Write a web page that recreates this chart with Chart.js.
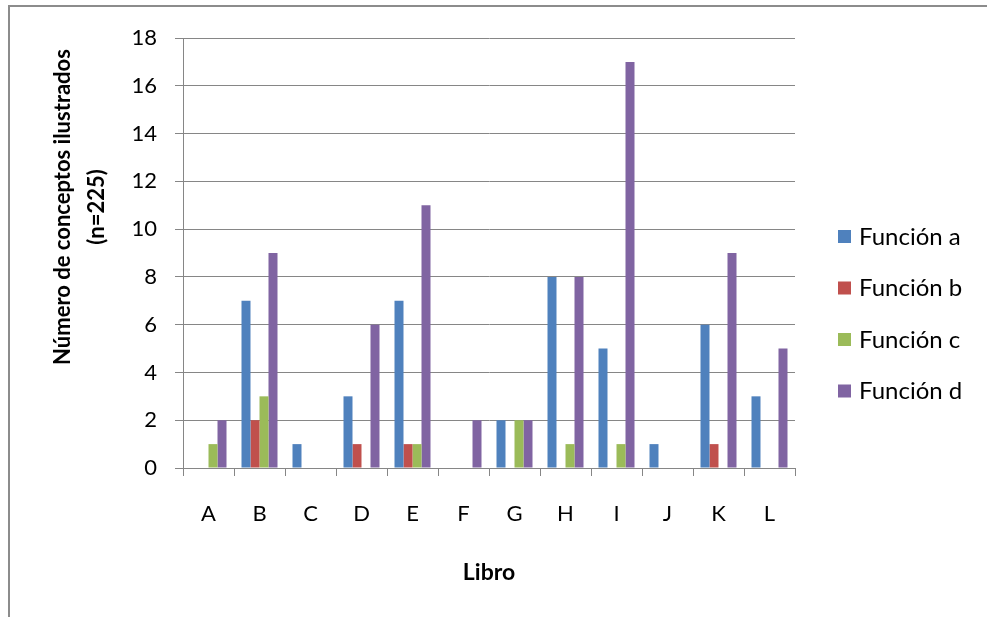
<!DOCTYPE html>
<html>
<head>
<meta charset="utf-8">
<script src="https://cdn.jsdelivr.net/npm/chart.js@4/dist/chart.umd.min.js"></script>
<style>
  html, body { margin: 0; padding: 0; background: #fff; }
  #wrap { width: 987px; height: 617px; position: relative; }
</style>
</head>
<body>
<div id="wrap"><canvas id="c" width="987" height="617"></canvas></div>
<script>
// Libros analizados y número de conceptos ilustrados por función
const libros = ['A', 'B', 'C', 'D', 'E', 'F', 'G', 'H', 'I', 'J', 'K', 'L'];
const funcionA = [0, 7, 1, 3, 7, 0, 2, 8, 5, 1, 6, 3];
const funcionB = [0, 2, 0, 1, 1, 0, 0, 0, 0, 0, 1, 0];
const funcionC = [1, 3, 0, 0, 1, 0, 2, 1, 1, 0, 0, 0];
const funcionD = [2, 9, 0, 6, 11, 2, 2, 8, 17, 0, 9, 5];
const nombresSeries = ['Función a', 'Función b', 'Función c', 'Función d'];
const colores = ['#4F81BD', '#C0504D', '#9BBB59', '#8064A2'];
const tituloY = ['Número de conceptos ilustrados', '(n=225)'];
const tituloX = 'Libro';

const FONT = 'Lato, Carlito, "Open Sans", sans-serif';
const GRIS = '#868686';

// Marco, título del eje vertical y leyenda dibujados sobre el lienzo
const extras = {
  id: 'extras',
  beforeDraw(chart) {
    const ctx = chart.ctx;
    ctx.save();
    ctx.fillStyle = '#fff';
    ctx.fillRect(0, 0, chart.width, chart.height);
    ctx.strokeStyle = '#8c8c8c';
    ctx.lineWidth = 2;
    ctx.beginPath();
    ctx.moveTo(9, chart.height);
    ctx.lineTo(9, 6);
    ctx.lineTo(chart.width, 6);
    ctx.stroke();
    ctx.restore();
  },
  afterDraw(chart) {
    const ctx = chart.ctx;
    ctx.save();
    // título del eje Y (dos líneas, girado)
    ctx.fillStyle = '#000';
    ctx.font = 'bold 22px ' + FONT;
    ctx.textAlign = 'center';
    ctx.textBaseline = 'middle';
    const cy = 207;
    tituloY.forEach((t, i) => {
      ctx.save();
      ctx.translate(63 + i * 34, cy);
      ctx.rotate(-Math.PI / 2);
      ctx.fillText(t, 0, 0);
      ctx.restore();
    });
    // leyenda
    ctx.font = '24px ' + FONT;
    ctx.textAlign = 'left';
    chart.data.datasets.forEach((ds, i) => {
      const y = 237 + i * 51.5;
      ctx.fillStyle = ds.backgroundColor;
      ctx.fillRect(838, y - 7, 13, 13);
      ctx.fillStyle = '#000';
      ctx.fillText(ds.label, 859, y);
    });
    ctx.restore();
  }
};

const series = [funcionA, funcionB, funcionC, funcionD];

new Chart(document.getElementById('c'), {
  type: 'bar',
  data: {
    labels: libros,
    datasets: series.map((d, i) => ({
      label: nombresSeries[i],
      data: d,
      backgroundColor: colores[i],
      borderWidth: 0,
      categoryPercentage: 0.706,
      barPercentage: 1.0
    }))
  },
  options: {
    responsive: false,
    animation: false,
    devicePixelRatio: 1,
    layout: { padding: { top: 38, right: 192, left: 0, bottom: 0 } },
    plugins: {
      legend: { display: false },
      tooltip: { enabled: false }
    },
    scales: {
      x: {
        afterFit(scale) { scale.height = 617 - 468; },
        grid: {
          offset: true,
          drawOnChartArea: false,
          drawTicks: true,
          tickLength: 8,
          color: GRIS
        },
        border: { color: GRIS, width: 1 },
        ticks: {
          color: '#000',
          padding: 25,
          font: { family: FONT, size: 22 }
        },
        title: {
          display: true,
          text: tituloX,
          color: '#000',
          font: { family: FONT, size: 23, weight: 'bold' },
          padding: { top: 0, bottom: 31 }
        }
      },
      y: {
        min: 0,
        max: 18,
        afterFit(scale) { scale.width = 183; },
        grid: {
          color: GRIS,
          drawTicks: true,
          tickLength: 8
        },
        border: { color: GRIS, width: 1 },
        ticks: {
          stepSize: 2,
          color: '#000',
          padding: 18,
          font: { family: FONT, size: 22 }
        }
      }
    }
  },
  plugins: [extras]
});
</script>
</body>
</html>
